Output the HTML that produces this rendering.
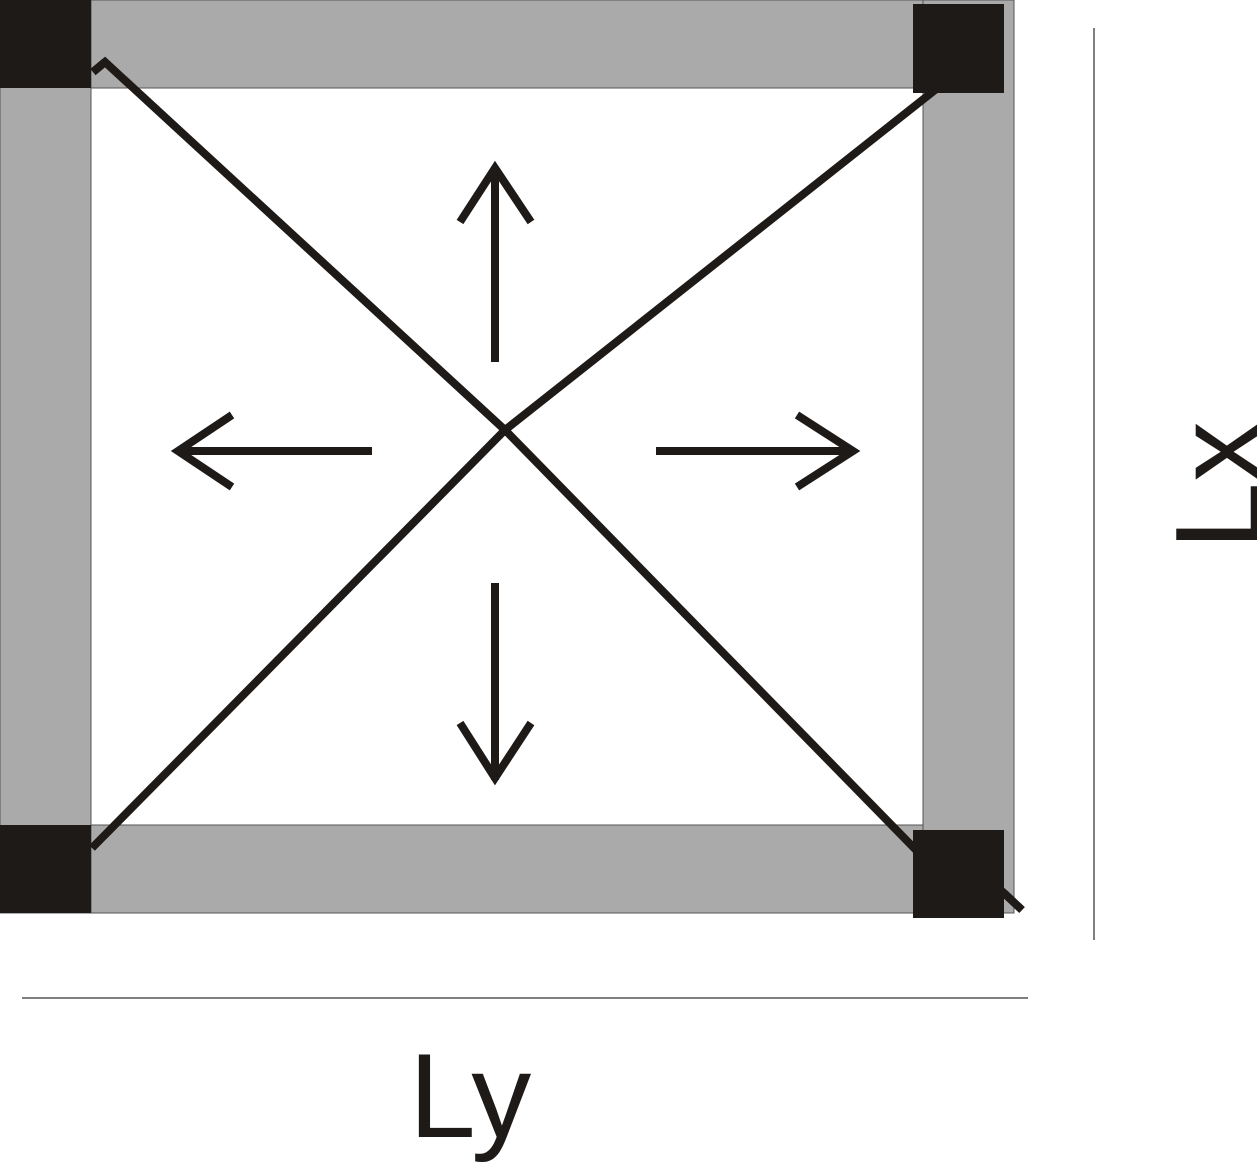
<!DOCTYPE html>
<html><head><meta charset="utf-8"><style>html,body{margin:0;padding:0;background:#fff;overflow:hidden}</style></head>
<body>
<svg width="1257" height="1162" viewBox="0 0 1257 1162" xmlns="http://www.w3.org/2000/svg">
<g fill="#aaaaaa" stroke="#555" stroke-width="1">
<rect x="0" y="0" width="1014" height="88"/>
<rect x="0" y="825" width="1014" height="88"/>
<rect x="0" y="0" width="91" height="913"/>
<rect x="923" y="0" width="91" height="913"/>
</g>
<rect x="91" y="88" width="832" height="737" fill="#fff" stroke="#555" stroke-width="1"/>
<g stroke="#1e1a18" stroke-width="8" fill="none">
<polyline points="93,72 105,62 505,430 916,850 990,880 1022,910"/>
<polyline points="935,90 505,430 92,848"/>
</g>
<g fill="#1e1a18">
<rect x="0" y="0" width="91" height="88"/>
<rect x="0" y="825" width="91" height="88"/>
<rect x="913" y="4" width="91" height="89"/>
<rect x="913" y="830" width="91" height="88"/>
</g>
<g stroke="#1e1a18" stroke-width="8" fill="none">
<line x1="93" y1="72" x2="105" y2="62"/>
<line x1="1004" y1="893" x2="1022" y2="910"/>
<line x1="495" y1="362" x2="495" y2="168"/>
<polyline points="460,222 495,168 531,222"/>
<line x1="495" y1="583" x2="495" y2="780"/>
<polyline points="460,723 495,778 531,723"/>
<line x1="372" y1="451" x2="178" y2="451"/>
<polyline points="232,415 178,451 232,487"/>
<line x1="656" y1="451" x2="853" y2="451"/>
<polyline points="797,415 853,451 797,487"/>
</g>
<line x1="1094" y1="28" x2="1094" y2="940" stroke="#555" stroke-width="1.5"/>
<line x1="22" y1="998" x2="1028" y2="998" stroke="#555" stroke-width="1.5"/>
<text x="409" y="1137" font-family="Liberation Sans, sans-serif" font-size="120" fill="#1e1a18">Ly</text>
<text transform="translate(1260,550) rotate(-90)" x="0" y="0" font-family="Liberation Sans, sans-serif" font-size="122" fill="#1e1a18">Lx</text>
</svg>
</body></html>
